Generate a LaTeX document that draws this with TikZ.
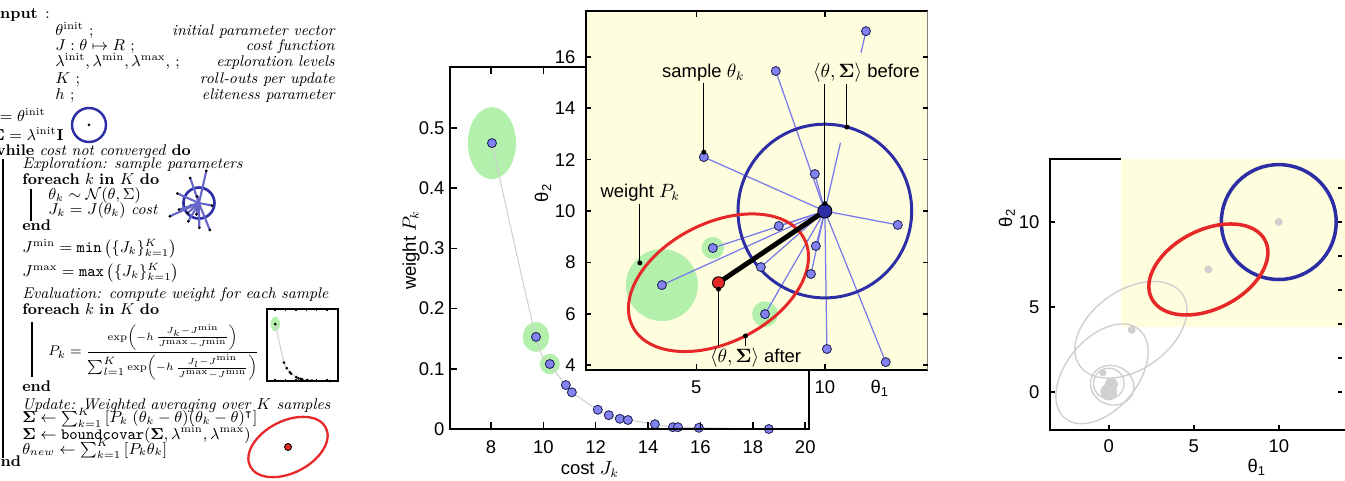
\documentclass[tikz,border=0pt]{standalone}
\usepackage{amsmath}
\usepackage{amssymb}
\usepackage[no-math]{fontspec}
\newfontfamily\plotfont{Liberation Sans}
\usetikzlibrary{calc}

\definecolor{bgyellow}{RGB}{254,254,222}
\definecolor{halogreen}{RGB}{178,240,172}
\definecolor{samplefill}{RGB}{130,130,240}
\definecolor{sampledraw}{RGB}{35,35,90}
\definecolor{raycol}{RGB}{120,120,235}
\definecolor{oldblue}{RGB}{45,45,165}
\definecolor{newred}{RGB}{230,40,40}
\definecolor{histgray}{RGB}{208,208,208}

% samples theta_k = (theta_1, theta_2), and (cost J_k, weight P_k)
\newcommand{\samplelist}{1/11.6/17.0, 2/8.09/15.45, 3/5.29/12.1, 4/9.61/11.44,
  5/12.84/9.46, 6/8.21/9.42, 7/5.64/8.56, 8/9.65/8.64, 9/7.51/7.82,
  10/9.46/7.55, 11/3.66/7.12, 12/7.67/5.99, 13/10.08/4.63, 14/12.37/4.12}
\newcommand{\weightlist}{1/8.04/0.475, 2/9.72/0.153, 3/10.25/0.108,
  4/10.86/0.073, 5/11.09/0.061, 6/12.08/0.032, 7/12.5/0.023, 8/12.92/0.017,
  9/13.23/0.015, 10/14.26/0.008, 11/14.95/0.003, 12/15.14/0.003,
  13/15.94/0.002, 14/18.61/0.0}

\begin{document}
\begin{tikzpicture}[x=0.02cm, y=0.02cm,
    algo/.style      = {anchor=base west, inner sep=0pt, font=\fontsize{8.8}{10}\selectfont},
    desc/.style      = {anchor=base east, inner sep=0pt, font=\fontsize{8.8}{10}\selectfont\itshape},
    bar/.style       = {line width=1.1pt},
    axisframe/.style = {line width=0.9pt},
    ticklab/.style   = {inner sep=0pt, font=\plotfont\fontsize{10.5}{12}\selectfont},
    plotlab/.style   = {inner sep=1pt, font=\plotfont\fontsize{10.5}{12}\selectfont},
    ray/.style       = {raycol, line width=0.7pt},
    oldcov/.style    = {oldblue, line width=1.7pt},
    newcov/.style    = {newred, line width=1.7pt},
    update/.style    = {line width=2.8pt},
    sample/.style    = {circle, draw=sampledraw, fill=samplefill, line width=0.5pt,
                        inner sep=0pt, minimum size=0.18cm},
    meandot/.style   = {circle, draw=black, line width=0.5pt, inner sep=0pt},
    leader/.style    = {line width=0.6pt},
    leaderdot/.style = {circle, fill, inner sep=0pt, minimum size=0.1cm},
    tinydot/.style   = {circle, fill, inner sep=0pt, minimum size=0.06cm},
    curve/.style     = {histgray, line width=0.6pt},
    histline/.style  = {histgray, line width=0.8pt},
    histdot/.style   = {circle, fill=histgray, inner sep=0pt}
]
\useasboundingbox (0,0) rectangle (1345,480);

% ---------------- algorithm ----------------
\node[algo] (ainput) at (-7,461) {\textbf{Input}};
\node[algo] (acolon) at (45,461) {:};
\foreach \n/\y/\arg/\txt in {
    1/444/{$\theta^{\mathrm{init}}$ ;}/{initial parameter vector},
    2/429/{$J:\theta\mapsto R$ ;}/{cost function},
    3/413/{$\lambda^{\mathrm{init}},\lambda^{\mathrm{min}},\lambda^{\mathrm{max}},$ ;}/{exploration levels},
    4/396/{$K$ ;}/{roll-outs per update},
    5/380/{$h$ ;}/{eliteness parameter}} {
  \node[algo] (arg\n) at (55,\y) {\arg};
  \node[desc] (desc\n) at (335,\y) {\txt};
}
\node[algo] (ainit)  at (-13,358) {$\theta=\theta^{\mathrm{init}}$};
\node[algo] (acov)   at (-9,339)  {$\mathbf{\Sigma}=\lambda^{\mathrm{init}}\mathbf{I}$};
\node[algo] (awhile) at (-8,324)  {\textbf{while} \textit{cost not converged} \textbf{do}};
\node[algo] (aexpl)  at (22,311)  {\textit{Exploration: sample parameters}};
\node[algo] (afor1)  at (22,295)  {\textbf{foreach} $k$ \textbf{in} $K$ \textbf{do}};
\node[algo] (asamp)  at (48,280)  {$\theta_k\sim\mathcal{N}(\theta,\Sigma)$};
\node[algo] (acost)  at (48,265)  {$J_k=J(\theta_k)$ \textit{cost}};
\node[algo] (aend1)  at (22,249)  {\textbf{end}};
\node[algo] (ajmin)  at (22,227)  {$J^{\mathrm{min}}=\mathtt{min}\left(\{J_k\}_{k=1}^{K}\right)$};
\node[algo] (ajmax)  at (22,203)  {$J^{\mathrm{max}}=\mathtt{max}\left(\{J_k\}_{k=1}^{K}\right)$};
\node[algo] (aeval)  at (22,181)  {\textit{Evaluation: compute weight for each sample}};
\node[algo] (afor2)  at (22,165)  {\textbf{foreach} $k$ \textbf{in} $K$ \textbf{do}};
\node[algo, font=\fontsize{8}{9}\selectfont] (aprob) at (48,124)
  {$\displaystyle P_k=\frac{\scriptstyle\exp\left(-h\,\frac{J_k-J^{\mathrm{min}}}{J^{\mathrm{max}}-J^{\mathrm{min}}}\right)}{\sum_{l=1}^{K}\scriptstyle\exp\left(-h\,\frac{J_l-J^{\mathrm{min}}}{J^{\mathrm{max}}-J^{\mathrm{min}}}\right)}$};
\node[algo] (aend2)  at (22,88)   {\textbf{end}};
\node[algo] (aupd)   at (22,71)   {\textit{Update: Weighted averaging over $K$ samples}};
\node[algo] (aupdc)  at (22,57)   {$\mathbf{\Sigma}\leftarrow\sum_{k=1}^{K}\left[P_k\;(\theta_k-\theta)(\theta_k-\theta)^{\intercal}\right]$};
\node[algo] (abound) at (22,41)   {$\mathbf{\Sigma}\leftarrow\mathtt{boundcovar}(\mathbf{\Sigma},\lambda^{\mathrm{min}},\lambda^{\mathrm{max}})$};
\node[algo] (aupdm)  at (22,26)   {$\theta_{new}\leftarrow\sum_{k=1}^{K}\left[P_k\theta_k\right]$};
\node[algo] (aend3)  at (-8,13)   {\textbf{end}};

\draw[bar] (3,321) -- (3,22);
\draw[bar] (31,291) -- (31,259);
\draw[bar] (32,158) -- (32,103);

% small sketches next to the algorithm
\draw[oldcov, line width=1.4pt] (89,355) circle (17);
\node[tinydot] (initdot) at (89,355) {};

\begin{scope}[shift={(3.062cm,4.622cm)}, x=0.0918cm, y=0.0918cm]
  \draw[oldcov, line width=1.5pt] (10,10) circle (3.38);
  \foreach \i/\a/\b in \samplelist {
    \draw[raycol!85!black, line width=1.2pt] (10,10) -- (\a,\b);
    \node[tinydot] (e\i) at (\a,\b) {};
  }
\end{scope}

\begin{scope}[shift={(4.672cm,1.98cm)}, x=0.1038cm, y=2.396cm]
  \foreach \i/\c/\w in \weightlist \coordinate (v\i) at (\c,\w);
  \fill[halogreen] (v1) ellipse (0.92 and 0.06);
  \draw[curve] plot[smooth] coordinates {(v1) (v2) (v3) (v4) (v5) (v6) (v7)
    (v8) (v9) (v10) (v11) (v12) (v13) (v14)};
  \foreach \i in {1,...,14} \node[tinydot] (vd\i) at (v\i) {};
  \draw[line width=0.8pt] (6.43,0) rectangle (20.1,0.601);
  \foreach \c in {8,10,...,20} {
    \draw[line width=0.8pt] (\c,0) -- (\c,0.02);
    \draw[line width=0.8pt] (\c,0.601) -- (\c,0.581);
  }
\end{scope}

\draw[newcov, line width=1.3pt] (288,33) circle[x radius=42.5, y radius=26, rotate=27];
\node[meandot, fill=newred, minimum size=0.14cm] (newdot) at (288,33) {};

% ---------------- weight over cost ----------------
\begin{scope}[shift={(5.628cm,1.02cm)}, x=0.524cm, y=12.04cm]
  \foreach \i/\c/\w in \weightlist \coordinate (w\i) at (\c,\w);
  \fill[halogreen] (w1) ellipse (0.916 and 0.0598);
  \fill[halogreen] (w2) ellipse (0.5 and 0.025);
  \fill[halogreen] (w3) ellipse (0.38 and 0.017);
  \draw[curve] plot[smooth] coordinates {(w1) (w2) (w3) (w4) (w5) (w6) (w7)
    (w8) (w9) (w10) (w11) (w12) (w13) (w14)};
  \foreach \i in {1,...,14} \node[sample] (ws\i) at (w\i) {};

  \draw[axisframe] (20.14,0.097) -- (20.14,0) -- (6.43,0) -- (6.43,0.601) -- (11.66,0.601);
  \foreach \c in {8,10,...,20} {
    \draw[axisframe] (\c,0) -- (\c,0.0116);
    \node[ticklab, anchor=base] (cxt\c) at (\c,-0.0415) {\c};
  }
  \foreach \c in {8,10} \draw[axisframe] (\c,0.601) -- (\c,0.5894);
  \foreach \w [count=\j] in {0,0.1,0.2,0.3,0.4,0.5} {
    \draw[axisframe] (6.43,\w) -- (6.7,\w);
    \node[ticklab, anchor=east] (cyt\j) at (6.24,\w) {\w};
  }
  \node[plotlab, rotate=90] (wlab) at (4.95,0.297) {weight $P_k$};
  \node[plotlab, anchor=base] (clab) at (11.78,-0.075) {cost $J_k$};
\end{scope}

% ---------------- samples in parameter space ----------------
\begin{scope}[shift={(11.36cm,0.24cm)}, x=0.514cm, y=0.514cm]
  \fill[bgyellow] (0.7,3.8) rectangle (14,17.8);
  \foreach \i/\a/\b in \samplelist \coordinate (c\i) at (\a,\b);
  \coordinate (mean) at (10,10);
  \coordinate (meannew) at (5.86,7.21);

  \fill[halogreen] (c11) circle (1.4);
  \fill[halogreen] (c12) circle (0.5);
  \fill[halogreen] (c7) circle (0.43);

  \foreach \i in {2,...,14} \draw[ray] (mean) -- (c\i);
  \draw[ray] (mean) -- ($(mean)!0.38!(c1)$);
  \draw[ray] ($(mean)!0.88!(c1)$) -- (c1);

  \draw[oldcov] (mean) circle (3.38);
  \draw[newcov] (meannew) circle[x radius=3.75, y radius=2.32, rotate=27];
  \draw[update] (meannew) -- (mean);

  \foreach \i in {1,...,14} \node[sample] (s\i) at (c\i) {};
  \node[meandot, fill=oldblue, minimum size=0.28cm] (m) at (mean) {};
  \node[meandot, fill=newred, minimum size=0.24cm] (mn) at (meannew) {};

  % axes
  \draw[axisframe, line width=1.1pt] (14,17.8) -- (0.7,17.8) -- (0.7,3.8) -- (14,3.8);
  \draw[gray, line width=0.6pt] (14,3.8) -- (14,17.8);
  \foreach \y in {4,6,...,16} {
    \draw[axisframe] (0.7,\y) -- ++(0.18,0);
    \draw[axisframe] (14,\y) -- ++(-0.18,0);
    \node[ticklab, anchor=east] (tyt\y) at (0.31,\y) {\y};
  }
  \foreach \x in {5,10} {
    \draw[axisframe] (\x,3.8) -- ++(0,0.25);
    \draw[axisframe] (\x,17.8) -- ++(0,-0.25);
    \node[ticklab, anchor=base] (txt\x) at (\x,2.88) {\x};
  }
  \node[plotlab, anchor=base] (t1lab) at (12.14,2.88) {θ\textsubscript{1}};
  \node[plotlab, rotate=90] (t2lab) at (-0.97,10.7) {θ\textsubscript{2}};

  % annotations
  \node[plotlab, anchor=base] (lsample) at (5.27,15.2) {sample $\theta_k$};
  \node[plotlab, anchor=base west] (lbefore) at (9.46,15.2) {$\langle\theta,\mathbf{\Sigma}\rangle$ before};
  \node[plotlab, anchor=base] (lweight) at (2.82,10.51) {weight $P_k$};
  \node[plotlab, anchor=base west] (lafter) at (5.45,4.09) {$\langle\theta,\mathbf{\Sigma}\rangle$ after};

  \coordinate (cpt) at ($(mean)+(75.3:3.38)$);
  \coordinate (wpt) at (2.8,7.98);
  \coordinate (ept) at (6.91,5.14);
  \draw[leader] (lsample.south -| s3) -- (s3.north) node[leaderdot] (dsample) {};
  \draw[leader] (lbefore.south -| m) -- (m.north) node[leaderdot] (dmean) {};
  \draw[leader] (lbefore.south -| cpt) -- (cpt) node[leaderdot] (dcov) {};
  \draw[leader] (lweight.south -| wpt) -- (wpt) node[leaderdot] (dweight) {};
  \draw[leader] (lafter.north -| mn) -- (mn.south) node[leaderdot] (dnew) {};
  \draw[leader] (lafter.north -| ept) -- (ept) node[leaderdot] (dell) {};
\end{scope}

% ---------------- history of updates ----------------
\begin{scope}[shift={(22.18cm,1.76cm)}, x=0.34cm, y=0.34cm]
  \draw[axisframe, line width=1.2pt] (0.7,13.7) -- (-3.47,13.7) -- (-3.47,-2.25) -- (13.9,-2.25);
  \fill[bgyellow] (0.7,3.8) rectangle (13.9,13.7);
  \foreach \y in {0,2,...,12} \draw[axisframe] (13.75,\y) -- ++(-0.25,0);
  \foreach \v in {0,5,10} {
    \draw[axisframe] (-3.47,\v) -- ++(0.3,0);
    \draw[axisframe] (\v,-2.25) -- ++(0,0.3);
    \node[ticklab, anchor=east] (ryt\v) at (-4.06,\v) {\v};
    \node[ticklab, anchor=base] (rxt\v) at (\v,-3.53) {\v};
  }
  \node[plotlab, anchor=base] (r1lab) at (8.7,-4.76) {θ\textsubscript{1}};
  \node[plotlab, rotate=90] (r2lab) at (-6.0,10.24) {θ\textsubscript{2}};

  \draw[histline] (1.3,3.66) circle[x radius=3.68, y radius=2.33, rotate=35];
  \draw[histline] (-0.4,1.07) circle[x radius=3.4, y radius=2.1, rotate=50];
  \draw[histline] (0.2,0.4) circle[x radius=1.3, y radius=1.15, rotate=-20];
  \draw[histline] (0,0.5) circle (0.9);
  \node[histdot, minimum size=0.34cm] (g1) at (0,0) {};
  \node[histdot, minimum size=0.26cm] (g2) at (0.15,0.45) {};
  \node[histdot, minimum size=0.14cm] (g3) at (-0.35,1.12) {};
  \node[histdot, minimum size=0.16cm] (g4) at (1.35,3.66) {};
  \node[histdot, minimum size=0.16cm] (g5) at (5.86,7.21) {};
  \node[histdot, minimum size=0.16cm] (g6) at (10,10) {};

  \draw[oldcov, line width=2pt] (10,10) circle (3.38);
  \draw[newcov, line width=2pt] (5.86,7.21) circle[x radius=3.75, y radius=2.32, rotate=27];
\end{scope}

\end{tikzpicture}
\end{document}
